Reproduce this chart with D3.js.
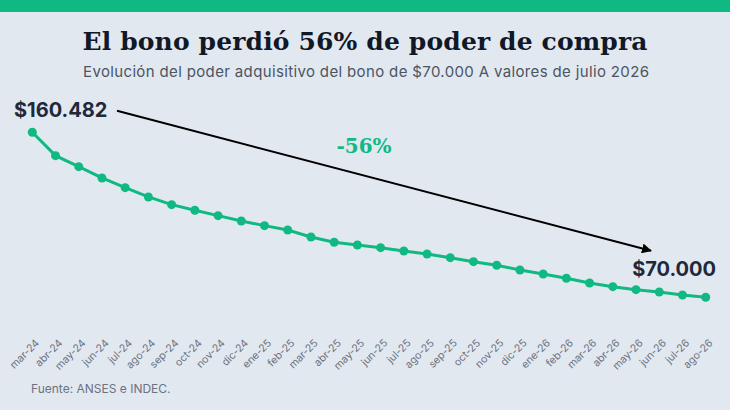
<!DOCTYPE html>
<html>
  <head>
    <meta charset="UTF-8" />
    <title>Bono poder de compra</title>
    <script src="https://d3js.org/d3.v7.min.js"></script>
    <style>
      body { margin: 0; background: #e2e8f0; }
      .tick-label { font-family: Inter, sans-serif; font-size: 10.5px; fill: #6b7280; }
    </style>
  </head>
  <body>
    <svg id="chart" width="730" height="410"></svg>

    <script>
      // months shown on the x axis
      const months = [
        'mar-24', 'abr-24', 'may-24', 'jun-24', 'jul-24', 'ago-24', 'sep-24', 'oct-24', 'nov-24', 'dic-24',
        'ene-25', 'feb-25', 'mar-25', 'abr-25', 'may-25', 'jun-25', 'jul-25', 'ago-25', 'sep-25', 'oct-25',
        'nov-25', 'dic-25', 'ene-26', 'feb-26', 'mar-26', 'abr-26', 'may-26', 'jun-26', 'jul-26', 'ago-26'
      ];
      // bono value at julio 2026 prices
      const values = [
        160482, 147650, 141620, 135420, 130100, 125000, 120780, 117710, 114750, 111840,
        109270, 106910, 103070, 100160, 98680, 97200, 95390, 93750, 91720, 89520,
        87550, 84970, 82780, 80420, 77840, 75810, 74170, 72910, 71260, 70000
      ];
      const startLabel = '$160.482';
      const endLabel = '$70.000';
      const changeLabel = '-56%';

      const svg = d3.select('#chart');
      const green = '#10b981';

      // top bar
      svg.append('rect').attr('x', 0).attr('y', 0).attr('width', 730).attr('height', 12).attr('fill', green);

      // title + subtitle
      svg.append('text')
        .attr('x', 365).attr('y', 50)
        .attr('text-anchor', 'middle')
        .attr('font-family', 'DejaVu Serif, serif')
        .attr('font-weight', 'bold')
        .attr('font-size', 25)
        .attr('textLength', 565)
        .attr('fill', '#111827')
        .text('El bono perdió 56% de poder de compra');

      svg.append('text')
        .attr('x', 366).attr('y', 77)
        .attr('text-anchor', 'middle')
        .attr('font-family', 'Inter, sans-serif')
        .attr('font-size', 15)
        .attr('textLength', 566)
        .attr('fill', '#4b5563')
        .text('Evolución del poder adquisitivo del bono de $70.000 A valores de julio 2026');

      // scales
      const x = d3.scalePoint().domain(months).range([32.3, 705.7]);
      const y = d3.scaleLinear().domain([60000, 165000]).range([315.5, 124]);

      // x axis labels (rotated)
      svg.append('g')
        .selectAll('text')
        .data(months)
        .join('text')
        .attr('class', 'tick-label')
        .attr('text-anchor', 'end')
        .attr('transform', d => `translate(${x(d) + 5},${341}) rotate(-45)`)
        .attr('dy', '0.35em')
        .text(d => d);

      // line
      const line = d3.line()
        .x((d, i) => x(months[i]))
        .y(d => y(d));

      svg.append('path')
        .datum(values)
        .attr('d', line)
        .attr('fill', 'none')
        .attr('stroke', green)
        .attr('stroke-width', 3);

      svg.append('g')
        .selectAll('circle')
        .data(values)
        .join('circle')
        .attr('cx', (d, i) => x(months[i]))
        .attr('cy', d => y(d))
        .attr('r', 4.5)
        .attr('fill', green);

      // arrow
      svg.append('defs').append('marker')
        .attr('id', 'head')
        .attr('viewBox', '0 0 10 10')
        .attr('refX', 9).attr('refY', 5)
        .attr('markerWidth', 5).attr('markerHeight', 5)
        .attr('orient', 'auto')
        .append('path')
        .attr('d', 'M0,0 L10,5 L0,10 Z')
        .attr('fill', '#000');

      const first = values[0], last = values[values.length - 1];
      svg.append('line')
        .attr('x1', 117).attr('y1', y(first) - 21.5)
        .attr('x2', 651).attr('y2', y(last) - 46.5)
        .attr('stroke', '#000')
        .attr('stroke-width', 2)
        .attr('marker-end', 'url(#head)');

      // value labels
      svg.append('text')
        .attr('x', 14).attr('y', y(first) - 15.5)
        .attr('font-family', 'Inter, sans-serif')
        .attr('font-weight', 'bold')
        .attr('font-size', 20)
        .attr('fill', '#1e293b')
        .text(startLabel);

      svg.append('text')
        .attr('x', 716).attr('y', y(last) - 21)
        .attr('text-anchor', 'end')
        .attr('font-family', 'Inter, sans-serif')
        .attr('font-weight', 'bold')
        .attr('font-size', 20)
        .attr('fill', '#1e293b')
        .text(endLabel);

      svg.append('text')
        .attr('x', 364).attr('y', 153)
        .attr('text-anchor', 'middle')
        .attr('font-family', 'DejaVu Serif, serif')
        .attr('font-weight', 'bold')
        .attr('font-size', 20)
        .attr('fill', green)
        .text(changeLabel);

      // source
      svg.append('text')
        .attr('x', 31).attr('y', 393)
        .attr('font-family', 'Inter, sans-serif')
        .attr('font-size', 12)
        .attr('fill', '#6b7280')
        .text('Fuente: ANSES e INDEC.');
    </script>
  </body>
</html>
